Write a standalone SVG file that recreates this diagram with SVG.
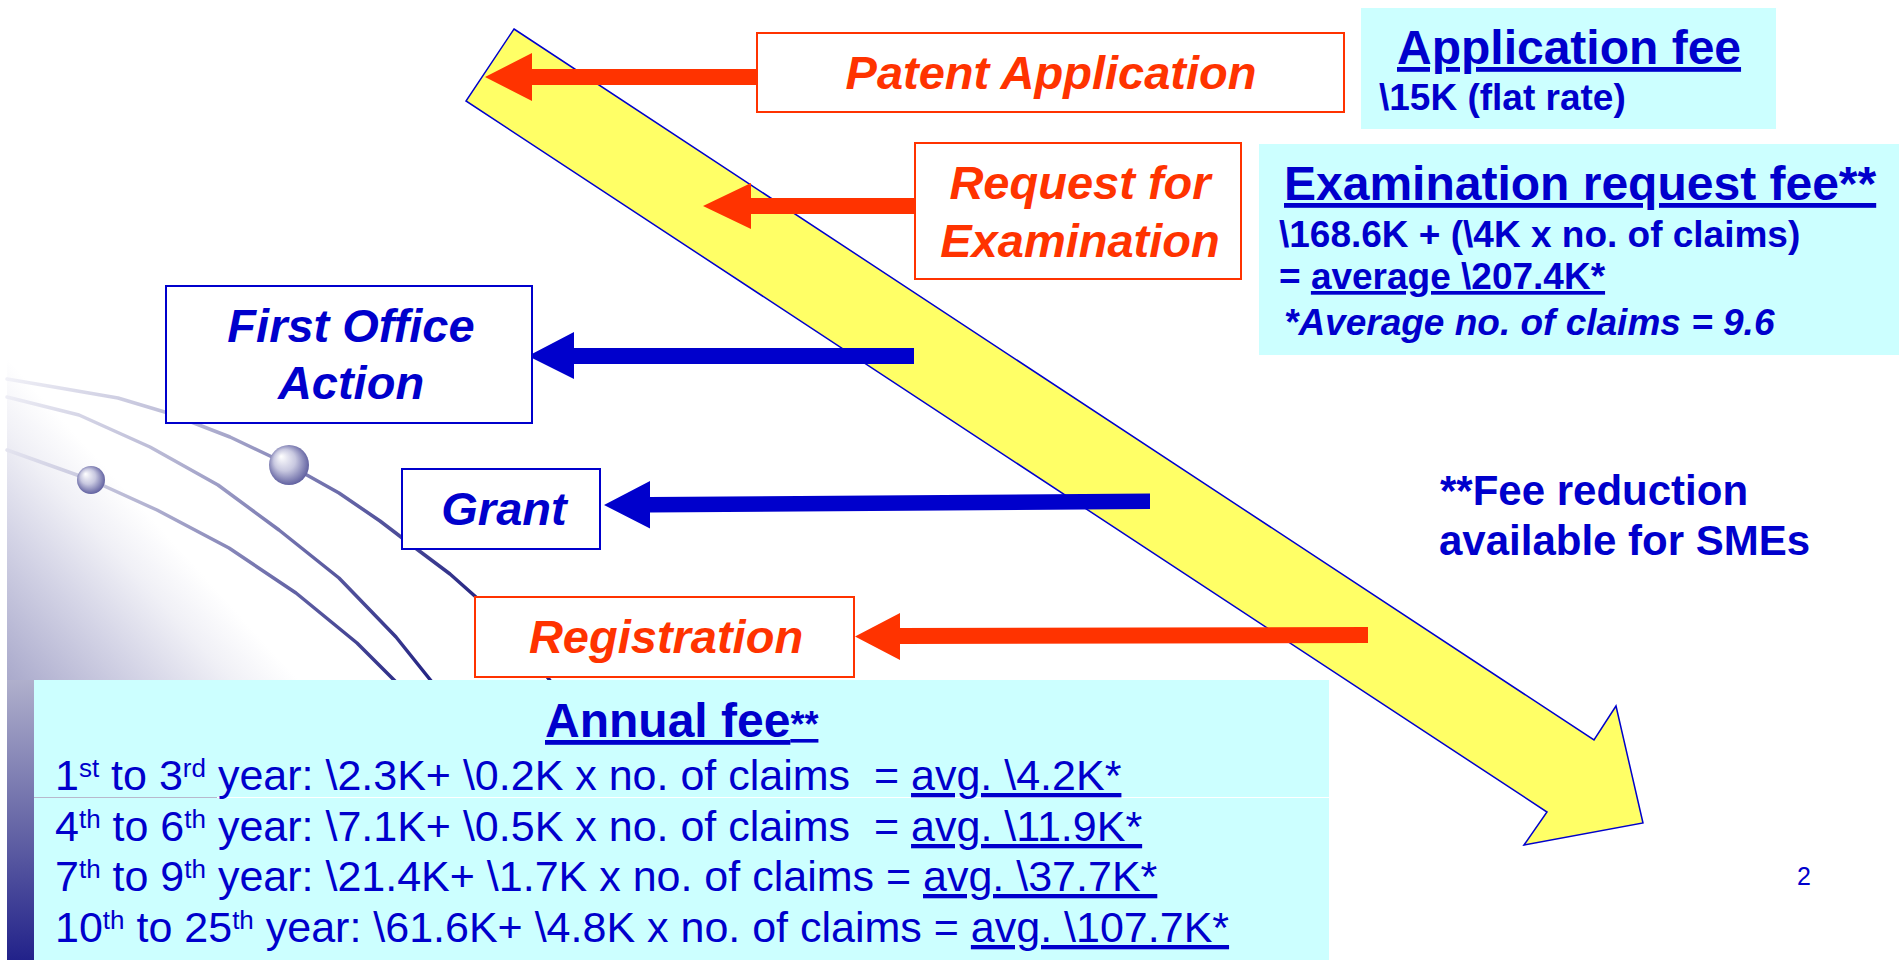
<svg xmlns="http://www.w3.org/2000/svg" width="1899" height="960" viewBox="0 0 1899 960">
<defs>
<style>
text{font-family:'Liberation Sans',Arial,sans-serif;text-decoration-skip-ink:none}
.bold{font-weight:bold}
.lbl{font-weight:bold;font-style:italic;font-size:47px;text-anchor:middle}
.red{fill:#FF3300}
.blue{fill:#0000CC}
.boxr{fill:#FFFFFF;stroke:#FF3300;stroke-width:2}
.boxb{fill:#FFFFFF;stroke:#0000CC;stroke-width:2}
.cyan{fill:#CCFFFF}
.curve{fill:none;stroke:url(#lineGrad);stroke-width:3.5;stroke-linejoin:round;stroke-linecap:round}
.row{fill:#0000CC;font-size:43px}
</style>
<linearGradient id="bgGrad" gradientUnits="userSpaceOnUse" x1="7" y1="700" x2="250" y2="480">
<stop offset="0" stop-color="#A4A4C8"/>
<stop offset="0.35" stop-color="#D4D4E6"/>
<stop offset="0.55" stop-color="#F0F0F6"/>
<stop offset="0.7" stop-color="#FFFFFF"/>
</linearGradient>
<linearGradient id="stripGrad" x1="0" y1="0" x2="0" y2="1">
<stop offset="0" stop-color="#B0B0CC"/>
<stop offset="0.5" stop-color="#6A6AA8"/>
<stop offset="1" stop-color="#22228A"/>
</linearGradient>
<linearGradient id="lineGrad" gradientUnits="userSpaceOnUse" x1="0" y1="380" x2="450" y2="680">
<stop offset="0" stop-color="#F2F2F8"/>
<stop offset="0.35" stop-color="#B4B4D2"/>
<stop offset="0.7" stop-color="#5A5AA0"/>
<stop offset="1" stop-color="#1E1E80"/>
</linearGradient>
<radialGradient id="ballGrad" cx="0.5" cy="0.5" fx="0.3" fy="0.28" r="0.6">
<stop offset="0" stop-color="#FFFFFF"/>
<stop offset="0.45" stop-color="#C8C8E0"/>
<stop offset="1" stop-color="#45458F"/>
</radialGradient>
</defs>

<rect x="0" y="0" width="1899" height="960" fill="#FFFFFF"/>

<g id="background">
<rect x="7" y="355" width="700" height="605" fill="url(#bgGrad)"/>
<rect x="7" y="680" width="27" height="280" fill="url(#stripGrad)"/>
<polyline class="curve" points="7,379 60,388 118,398 168,413 230,437 289,465 339,493 380,521 418,550 450,574 477,598 520,640 551,682"/>
<polyline class="curve" points="7,397 79,415 150,447 218,485 279,530 339,578 396,637 432,682"/>
<polyline class="curve" points="7,450 91,480 157,510 229,548 296,593 357,643 396,682"/>
<circle cx="289" cy="465" r="20" fill="url(#ballGrad)"/>
<circle cx="91" cy="480" r="14" fill="url(#ballGrad)"/>
</g>

<g id="timeline-arrow">
<polygon points="514,29 1594,740 1616,706 1643,823 1524,845 1547,812 466,101" fill="#FFFF66" stroke="#0000CC" stroke-width="1.5" stroke-linejoin="miter"/>
</g>

<g id="connectors">
<polygon class="red" points="757,69 532,69 532,53 485,77 532,101 532,85 757,85"/>
<polygon class="red" points="915,198 751,198 751,183 703,206 751,229 751,214 915,214"/>
<polygon class="blue" points="914,348 574,348 574,332 528,356 574,379 574,364 914,364"/>
<polygon class="blue" points="1150,493.5 650,497 650,481 604,505 650,528.5 650,512.5 1150,509"/>
<polygon class="red" points="1368,627 900,628 900,613 855,636.5 900,660 900,644 1368,643"/>
</g>

<g id="patent-application">
<rect class="boxr" x="757" y="33" width="587" height="79"/>
<text class="lbl red" x="1051" y="89">Patent Application</text>
</g>

<g id="request-for-examination">
<rect class="boxr" x="915" y="143" width="326" height="136"/>
<text class="lbl red" x="1080" y="199">Request for</text>
<text class="lbl red" x="1080" y="257">Examination</text>
</g>

<g id="first-office-action">
<rect class="boxb" x="166" y="286" width="366" height="137"/>
<text class="lbl blue" x="351" y="342">First Office</text>
<text class="lbl blue" x="351" y="399">Action</text>
</g>

<g id="grant">
<rect class="boxb" x="402" y="469" width="198" height="80"/>
<text class="lbl blue" x="504" y="525">Grant</text>
</g>

<g id="registration">
<rect class="boxr" x="475" y="597" width="379" height="80"/>
<text class="lbl red" x="666" y="653">Registration</text>
</g>

<g id="application-fee">
<rect class="cyan" x="1361" y="8" width="415" height="121"/>
<text class="bold blue" x="1397" y="64" font-size="48" text-decoration="underline">Application fee</text>
<text class="bold blue" x="1379" y="110" font-size="37">\15K (flat rate)</text>
</g>

<g id="examination-request-fee">
<rect class="cyan" x="1259" y="144" width="640" height="211"/>
<text class="bold blue" x="1284" y="200" font-size="48" text-decoration="underline">Examination request fee**</text>
<text class="bold blue" x="1279" y="247" font-size="37">\168.6K + (\4K x no. of claims)</text>
<text class="bold blue" x="1279" y="289" font-size="37" xml:space="preserve">= <tspan text-decoration="underline">average \207.4K*</tspan></text>
<text class="bold blue" x="1284" y="335" font-size="37" font-style="italic">*Average no. of claims = 9.6</text>
</g>

<g id="fee-reduction-note">
<text class="bold blue" x="1440" y="505" font-size="42">**Fee reduction</text>
<text class="bold blue" x="1439" y="555" font-size="42">available for SMEs</text>
</g>

<g id="annual-fee">
<rect class="cyan" x="34" y="680" width="1295" height="280"/>
<line x1="34" y1="797.5" x2="1329" y2="797.5" stroke="#FFFFFF" stroke-width="1.2"/>
<line x1="34" y1="797.5" x2="217" y2="797.5" stroke="#B8B8CC" stroke-width="1.2"/>
<text class="bold blue" x="545" y="737" font-size="48" text-decoration="underline">Annual fee<tspan font-size="36">**</tspan></text>
<text class="row" x="55" y="790" xml:space="preserve">1<tspan dy="-13" font-size="26">st</tspan><tspan dy="13"> to 3</tspan><tspan dy="-13" font-size="26">rd</tspan><tspan dy="13"> year: \2.3K+ \0.2K x no. of claims  = </tspan><tspan text-decoration="underline">avg. \4.2K*</tspan></text>
<text class="row" x="55" y="841" xml:space="preserve">4<tspan dy="-13" font-size="26">th</tspan><tspan dy="13"> to 6</tspan><tspan dy="-13" font-size="26">th</tspan><tspan dy="13"> year: \7.1K+ \0.5K x no. of claims  = </tspan><tspan text-decoration="underline">avg. \11.9K*</tspan></text>
<text class="row" x="55" y="891" xml:space="preserve">7<tspan dy="-13" font-size="26">th</tspan><tspan dy="13"> to 9</tspan><tspan dy="-13" font-size="26">th</tspan><tspan dy="13"> year: \21.4K+ \1.7K x no. of claims = </tspan><tspan text-decoration="underline">avg. \37.7K*</tspan></text>
<text class="row" x="55" y="942" xml:space="preserve">10<tspan dy="-13" font-size="26">th</tspan><tspan dy="13"> to 25</tspan><tspan dy="-13" font-size="26">th</tspan><tspan dy="13"> year: \61.6K+ \4.8K x no. of claims = </tspan><tspan text-decoration="underline">avg. \107.7K*</tspan></text>
</g>

<g id="page-number">
<text class="blue" x="1797" y="885" font-size="25">2</text>
</g>
</svg>
